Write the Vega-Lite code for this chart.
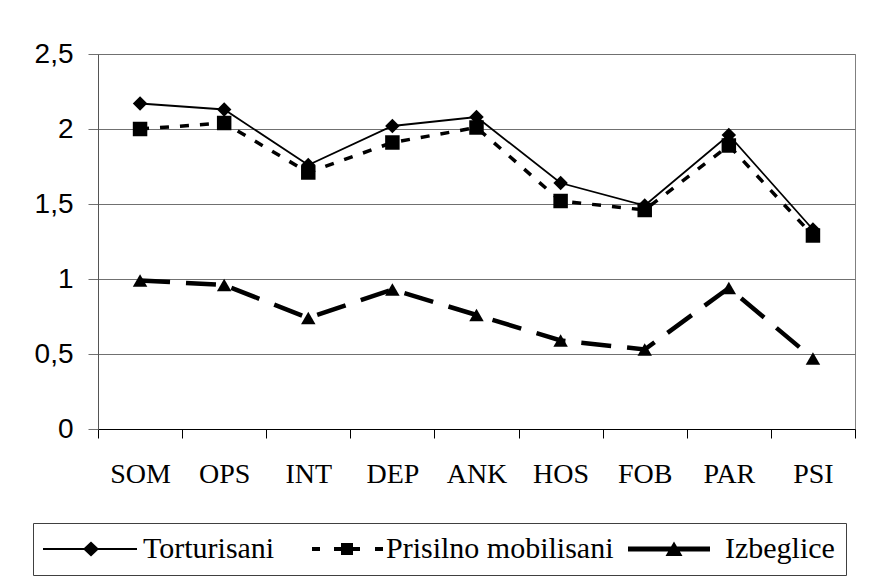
{
  "$schema": "https://vega.github.io/schema/vega-lite/v6.json",
  "width": 757,
  "height": 375,
  "autosize": {"type": "none"},
  "padding": {"left": 98, "top": 54, "right": 16, "bottom": 153},
  "background": "white",
  "config": {
    "view": {"stroke": "#808080", "strokeWidth": 1},
    "axis": {"labelColor": "black"}
  },
  "resolve": {"scale": {"shape": "independent"}},
  "data": {
    "values": [
      {"cat": "SOM", "series": "Torturisani", "value": 2.17},
      {"cat": "OPS", "series": "Torturisani", "value": 2.13},
      {"cat": "INT", "series": "Torturisani", "value": 1.76},
      {"cat": "DEP", "series": "Torturisani", "value": 2.02},
      {"cat": "ANK", "series": "Torturisani", "value": 2.08},
      {"cat": "HOS", "series": "Torturisani", "value": 1.64},
      {"cat": "FOB", "series": "Torturisani", "value": 1.49},
      {"cat": "PAR", "series": "Torturisani", "value": 1.96},
      {"cat": "PSI", "series": "Torturisani", "value": 1.33},
      {"cat": "SOM", "series": "Prisilno mobilisani", "value": 2.0},
      {"cat": "OPS", "series": "Prisilno mobilisani", "value": 2.04},
      {"cat": "INT", "series": "Prisilno mobilisani", "value": 1.71},
      {"cat": "DEP", "series": "Prisilno mobilisani", "value": 1.91},
      {"cat": "ANK", "series": "Prisilno mobilisani", "value": 2.01},
      {"cat": "HOS", "series": "Prisilno mobilisani", "value": 1.52},
      {"cat": "FOB", "series": "Prisilno mobilisani", "value": 1.46},
      {"cat": "PAR", "series": "Prisilno mobilisani", "value": 1.89},
      {"cat": "PSI", "series": "Prisilno mobilisani", "value": 1.29},
      {"cat": "SOM", "series": "Izbeglice", "value": 0.99},
      {"cat": "OPS", "series": "Izbeglice", "value": 0.96},
      {"cat": "INT", "series": "Izbeglice", "value": 0.74},
      {"cat": "DEP", "series": "Izbeglice", "value": 0.93},
      {"cat": "ANK", "series": "Izbeglice", "value": 0.76},
      {"cat": "HOS", "series": "Izbeglice", "value": 0.59},
      {"cat": "FOB", "series": "Izbeglice", "value": 0.53},
      {"cat": "PAR", "series": "Izbeglice", "value": 0.94},
      {"cat": "PSI", "series": "Izbeglice", "value": 0.47}
    ]
  },
  "encoding": {
    "x": {
      "field": "cat",
      "type": "nominal",
      "sort": ["SOM", "OPS", "INT", "DEP", "ANK", "HOS", "FOB", "PAR", "PSI"],
      "scale": {"type": "band", "paddingInner": 0, "paddingOuter": 0},
      "axis": {
        "title": null,
        "tickBand": "extent",
        "domainColor": "black",
        "tickColor": "black",
        "tickSize": 9,
        "labelFont": "Liberation Serif",
        "labelFontSize": 28,
        "labelColor": "black",
        "labelAngle": 0,
        "labelBaseline": "alphabetic",
        "labelPadding": 44,
        "grid": false
      }
    },
    "y": {
      "field": "value",
      "type": "quantitative",
      "scale": {"domain": [0, 2.5], "nice": false},
      "axis": {
        "title": null,
        "values": [0, 0.5, 1, 1.5, 2, 2.5],
        "grid": true,
        "gridColor": "#707070",
        "gridOpacity": 1,
        "domainColor": "#555555",
        "tickColor": "#707070",
        "tickSize": 10,
        "labelFont": "Liberation Sans",
        "labelFontSize": 28,
        "labelColor": "black",
        "labelPadding": 15,
        "labelExpr": "replace(format(datum.value, '.1~f'), '.', ',')"
      }
    }
  },
  "layer": [
    {
      "transform": [{"filter": "datum.series === 'Izbeglice'"}],
      "mark": {"type": "line", "strokeWidth": 4.5, "color": "black", "strokeDash": [30, 16]}
    },
    {
      "transform": [{"filter": "datum.series === 'Prisilno mobilisani'"}],
      "mark": {"type": "line", "strokeWidth": 3.5, "color": "black", "strokeDash": [9, 11]}
    },
    {
      "transform": [{"filter": "datum.series === 'Torturisani'"}],
      "mark": {"type": "line", "strokeWidth": 1.8, "color": "black"}
    },
    {
      "mark": {"type": "point", "filled": true, "size": 210, "color": "black", "opacity": 1},
      "encoding": {
        "shape": {
          "field": "series",
          "type": "nominal",
          "scale": {
            "domain": ["Torturisani", "Prisilno mobilisani", "Izbeglice"],
            "range": ["diamond", "square", "triangle-up"]
          },
          "legend": null
        }
      }
    },
    {
      "transform": [{"filter": "false"}],
      "mark": {"type": "point", "filled": true, "color": "black", "opacity": 1},
      "encoding": {
        "shape": {
          "field": "series",
          "type": "nominal",
          "scale": {
            "domain": ["Torturisani", "Prisilno mobilisani", "Izbeglice"],
            "range": [
              "M-5.6,-0.09L3.8,-0.09L3.8,0.09L-5.6,0.09Z M-1.6,0L-0.8,-0.75L0,0L-0.8,0.75Z",
              "M-3,-0.2L-2.2,-0.2L-2.2,0.2L-3,0.2Z M-0.8,-0.2L-0.1,-0.2L-0.1,0.2L-0.8,0.2Z M-0.1,-0.6L1.1,-0.6L1.1,0.6L-0.1,0.6Z M1.1,-0.2L1.8,-0.2L1.8,0.2L1.1,0.2Z M3.3,-0.2L4.1,-0.2L4.1,0.2L3.3,0.2Z",
              "M-5.3,-0.25L2.9,-0.25L2.9,0.25L-5.3,0.25Z M-0.7,-0.75L0.15,0.7L-1.55,0.7Z"
            ]
          },
          "legend": {
            "orient": "none",
            "legendX": -65,
            "legendY": 469,
            "direction": "horizontal",
            "columns": 3,
            "title": null,
            "padding": 11,
            "strokeColor": "#404040",
            "fillColor": "white",
            "columnPadding": 12,
            "symbolSize": 400,
            "symbolOffset": 40,
            "labelOffset": 29,
            "symbolStrokeWidth": 0,
            "symbolFillColor": "black",
            "symbolOpacity": 1,
            "labelFont": "Liberation Serif",
            "labelFontSize": 30,
            "labelColor": "black",
            "labelLimit": 400
          }
        }
      }
    }
  ]
}
